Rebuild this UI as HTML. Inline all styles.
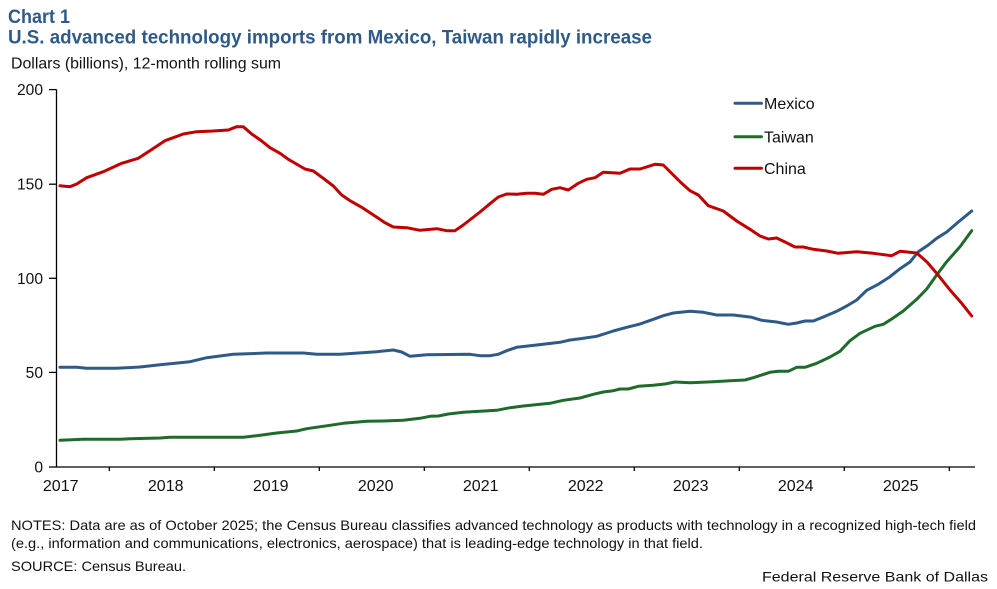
<!DOCTYPE html>
<html>
<head>
<meta charset="utf-8">
<style>
  html,body{margin:0;padding:0;background:#fff;}
  svg{display:block;}
  text{font-family:"Liberation Sans", Arial, sans-serif;}
</style>
</head>
<body>
<svg width="997" height="589" viewBox="0 0 997 589" xmlns="http://www.w3.org/2000/svg">
  <rect width="997" height="589" fill="#fff"/>
  <!-- Titles -->
  <text x="8" y="23" font-size="19" font-weight="bold" fill="#2E5A88" textLength="62" lengthAdjust="spacingAndGlyphs">Chart 1</text>
  <text x="8" y="43.5" font-size="19.5" font-weight="bold" fill="#2E5A88" textLength="644" lengthAdjust="spacingAndGlyphs">U.S. advanced technology imports from Mexico, Taiwan rapidly increase</text>
  <text x="11" y="68.5" font-size="16" fill="#111" textLength="270" lengthAdjust="spacingAndGlyphs">Dollars (billions), 12-month rolling sum</text>

  <!-- Axes -->
  <g stroke="#000" stroke-width="1.3" fill="none">
    <line x1="56.5" y1="89.5" x2="56.5" y2="467"/>
    <line x1="56" y1="467" x2="975" y2="467"/>
    <line x1="49" y1="89.6" x2="56.5" y2="89.6"/>
    <line x1="49" y1="184.2" x2="56.5" y2="184.2"/>
    <line x1="49" y1="278.3" x2="56.5" y2="278.3"/>
    <line x1="49" y1="372.4" x2="56.5" y2="372.4"/>
    <line x1="49" y1="467" x2="56.5" y2="467"/>
    <line x1="109.3" y1="467" x2="109.3" y2="471"/>
    <line x1="214.3" y1="467" x2="214.3" y2="471"/>
    <line x1="319.3" y1="467" x2="319.3" y2="471"/>
    <line x1="424.3" y1="467" x2="424.3" y2="471"/>
    <line x1="529.3" y1="467" x2="529.3" y2="471"/>
    <line x1="634.3" y1="467" x2="634.3" y2="471"/>
    <line x1="739.3" y1="467" x2="739.3" y2="471"/>
    <line x1="844.3" y1="467" x2="844.3" y2="471"/>
    <line x1="949.3" y1="467" x2="949.3" y2="471"/>
  </g>
  <!-- Y labels -->
  <g font-size="15.6" fill="#111" text-anchor="end">
    <text x="43" y="95">200</text>
    <text x="43" y="189.7">150</text>
    <text x="43" y="283.8">100</text>
    <text x="43" y="377.9">50</text>
    <text x="43" y="472.5">0</text>
  </g>
  <!-- X labels -->
  <g font-size="16" fill="#111" text-anchor="middle">
    <text x="60.7" y="491">2017</text>
    <text x="165.7" y="491">2018</text>
    <text x="270.7" y="491">2019</text>
    <text x="375.7" y="491">2020</text>
    <text x="480.7" y="491">2021</text>
    <text x="585.7" y="491">2022</text>
    <text x="690.7" y="491">2023</text>
    <text x="795.7" y="491">2024</text>
    <text x="900.7" y="491">2025</text>
  </g>

  <!-- Series -->
  <g fill="none" stroke-width="3" stroke-linejoin="round" stroke-linecap="round">
    <polyline stroke="#1F6B2B" points="60,440.3 83.3,439.3 120,439.3 130,438.7 160,438 170,437.3 243.3,437.3 256.7,435.7 276.7,433 296.7,431 306.7,428.7 330,425.3 343.3,423.3 366.7,421.3 383.3,421 403.3,420.3 420,418.3 430,416.3 438.3,416 448.3,414 463.3,412.3 480,411.3 496.7,410.3 510,407.7 523.3,406 550,403.3 563.3,400.3 580,398 593.3,394.3 603.3,392 613.3,390.7 620,389 628.3,389 638.3,386.3 653.3,385.3 665,384 675,382 690,382.7 713.3,381.7 730,380.7 745,380 753.3,377.7 770,372.3 778.3,371.3 788.3,371.3 796.7,367.3 805,367.3 816.7,363.3 830,357 840,351.3 850,340.7 860,333.3 875,326.3 883.3,324.3 891.7,319 903.3,311 916.7,299.3 926.7,289 936.7,275 946.7,261.7 960,246.7 971.7,230.7"/>
    <polyline stroke="#2E5A88" points="60,367.3 76.7,367.3 86.7,368.3 116.7,368.3 140,367 160,364.7 190,361.7 206.7,357.7 233.3,354.3 266.7,353 303.3,353 316.7,354.3 340,354.3 376.7,351.7 393.3,350 401.7,352 410,356.3 426.7,354.7 470,354.3 480,355.7 490,355.7 498.3,354.3 506.7,350.7 516.7,347.3 536.7,345 560,342.3 570,340 580,338.7 596.7,336.3 613.3,331 626.7,327.3 640,324 653.3,319.3 663.3,315.7 673.3,313 690,311.3 703.3,312.3 716.7,315 733.3,315 751.7,317.3 761.7,320.3 776.7,322 788.3,324.3 796.7,323 805,321 813.3,321 823.3,317 836.7,311.3 846.7,306 856.7,300 866.7,290.3 878.3,284.3 890,276.7 900,268.7 910,262 918.3,251.7 928.3,245 936.7,238.3 946.7,232 958.3,222 971.7,211"/>
    <polyline stroke="#C00000" points="60,185.7 70,186.7 76.7,184 86.7,177.7 103.3,171.7 121.7,163.3 138.3,158.3 148.3,151.7 165,140.7 183.3,134 196.7,131.7 213.3,131 228.3,130 236.7,126.7 243.3,126.7 251.7,134 261.7,141 270,147.7 280,153.3 288.3,159.3 305,169 313.3,171 323.3,178.3 333.3,186 341.7,195 350,200.7 361.7,207.3 370,212.7 378,218 385,222.7 393.3,227 406.7,227.7 420,230.3 436.7,228.7 446.7,230.7 455,230.7 463.3,225 480,212 490,203.7 498.3,197 506.7,194 516.7,194.3 526.7,193.3 535,193.3 543.3,194.3 551.7,189.3 560,187.7 568.3,190 578.3,183.3 586.7,179.3 595,177.7 603.3,172.3 620,173.3 630,169 640,169 655,164.3 663.3,165 673.3,175 681.7,183.3 690,190.7 698.3,195 708.3,205.7 723.3,211 736.7,221 750,229.3 760,236 768.3,239 776.7,238 785,242 795,247 803.3,247 813.3,249.3 826.7,251 838.3,253.3 856.7,251.7 873.3,253.3 891.7,255.7 900,251.3 916.7,253 926.7,261.7 936.7,273.3 950,290 961.7,303.3 971.7,316"/>
  </g>

  <!-- Legend -->
  <g stroke-width="3" stroke-linecap="round">
    <line x1="735" y1="103.3" x2="761.5" y2="103.3" stroke="#2E5A88"/>
    <line x1="735" y1="136.7" x2="761.5" y2="136.7" stroke="#1F6B2B"/>
    <line x1="735" y1="168.3" x2="761.5" y2="168.3" stroke="#C00000"/>
  </g>
  <g font-size="16" fill="#111">
    <text x="764" y="109">Mexico</text>
    <text x="764" y="142.4">Taiwan</text>
    <text x="764" y="174">China</text>
  </g>

  <!-- Notes -->
  <g font-size="14" fill="#111">
    <text x="11" y="530" textLength="965" lengthAdjust="spacingAndGlyphs">NOTES: Data are as of October 2025; the Census Bureau classifies advanced technology as products with technology in a recognized high-tech field</text>
    <text x="11" y="548" textLength="692" lengthAdjust="spacingAndGlyphs">(e.g., information and communications, electronics, aerospace) that is leading-edge technology in that field.</text>
    <text x="11" y="571" textLength="175" lengthAdjust="spacingAndGlyphs">SOURCE: Census Bureau.</text>
    <text x="762" y="581.5" textLength="226" lengthAdjust="spacingAndGlyphs">Federal Reserve Bank of Dallas</text>
  </g>
</svg>
</body>
</html>
